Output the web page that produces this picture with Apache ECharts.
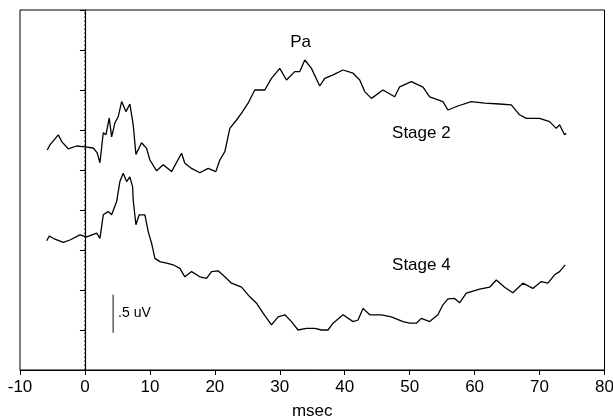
<!DOCTYPE html>
<html><head><meta charset="utf-8">
<script src="https://cdn.jsdelivr.net/npm/echarts@6/dist/echarts.min.js"></script>
<style>html,body{margin:0;padding:0;background:#fff}#c{width:613px;height:419px}</style>
</head><body><div id="c"></div>
<script>
var xTicks = [-10, 0, 10, 20, 30, 40, 50, 60, 70, 80];
var stage2 = [
[-5.80,5.50],[-5.38,5.63],[-4.11,5.88],[-3.58,5.71],[-2.57,5.53],[-1.28,5.60],[0,5.58],[1.28,5.55],[1.89,5.43],[2.31,5.18],
[2.82,5.93],[3.23,5.88],[3.74,6.30],[4.11,5.83],[4.62,6.18],[5.12,6.33],[5.65,6.71],[6.31,6.46],[6.92,6.65],[7.43,6.13],
[7.85,5.39],[8.72,5.68],[9.49,5.54],[10.0,5.25],[11.03,4.98],[12.05,5.13],[13.34,4.96],[14.88,5.42],[15.38,5.17],[16.42,5.04],
[17.69,4.93],[18.97,5.04],[20.15,4.96],[20.77,5.25],[21.54,5.46],[22.31,6.04],[23.34,6.25],[24.11,6.42],[25.12,6.67],[26.15,7.00],
[27.69,7.00],[28.72,7.29],[30.0,7.54],[31.03,7.25],[32.31,7.46],[33.08,7.46],[33.85,7.75],[34.88,7.54],[36.15,7.10],[36.92,7.29],
[38.2,7.38],[39.74,7.50],[41.28,7.42],[42.31,7.25],[43.08,6.96],[44.11,6.79],[45.89,7.00],[47.69,6.83],[48.46,7.08],[50.26,7.21],
[52.05,7.07],[53.08,6.83],[55.12,6.71],[55.89,6.50],[57.43,6.60],[59.49,6.71],[61.54,6.67],[63.85,6.65],[65.65,6.63],[66.92,6.38],
[67.95,6.29],[70.0,6.29],[71.54,6.21],[72.57,6.04],[73.08,6.13],[73.85,5.88],[74.1,5.92]
];
var stage4 = [
[-5.89,3.23],[-5.49,3.35],[-4.62,3.27],[-3.34,3.19],[-2.31,3.25],[-0.77,3.38],[0.26,3.33],[1.8,3.42],[2.31,3.29],[2.82,3.88],
[3.58,3.96],[4.11,3.88],[4.88,4.21],[5.38,4.71],[5.89,4.92],[6.42,4.71],[6.92,4.83],[7.34,4.58],[7.43,4.25],[7.85,3.63],
[8.35,3.88],[9.23,3.88],[9.74,3.46],[10.26,3.17],[10.77,2.79],[11.54,2.71],[12.57,2.67],[13.58,2.63],[14.62,2.54],[15.38,2.33],
[16.42,2.46],[17.69,2.33],[18.72,2.29],[19.49,2.46],[20.51,2.48],[21.54,2.33],[22.57,2.17],[24.11,2.07],[25.38,1.83],[26.42,1.67],
[27.43,1.42],[28.72,1.13],[29.74,1.33],[30.77,1.38],[31.8,1.21],[32.82,1.0],[34.1,1.04],[35.38,1.04],[36.42,1.0],[37.43,1.0],
[38.2,1.17],[39.74,1.38],[41.28,1.21],[42.05,1.25],[42.82,1.54],[43.85,1.38],[45.65,1.38],[47.18,1.33],[48.97,1.21],[50.0,1.17],
[51.03,1.17],[51.8,1.29],[53.08,1.21],[54.35,1.38],[55.12,1.63],[55.89,1.78],[56.92,1.79],[57.69,1.68],[58.72,1.92],[59.49,1.96],
[60.77,2.02],[62.31,2.07],[63.34,2.25],[64.62,2.07],[65.89,1.93],[67.43,2.17],[68.97,2.04],[70.26,2.21],[71.28,2.17],[72.31,2.38],
[73.08,2.46],[73.95,2.63]
];
var zeroLine = [[0,0],[0,9]];
var scaleBar = [[4.34,0.93],[4.34,1.88]];
var labels = [
  {name:'Pa', coord:[33.2,8.18]},
  {name:'Stage 2', coord:[51.8,5.92]},
  {name:'Stage 4', coord:[51.8,2.61]}
];
var scaleLabel = {name:'.5 uV', coord:[5.1,1.42]};

var chart = echarts.init(document.getElementById('c'));
var font = 'Liberation Sans, Arial, sans-serif';
chart.setOption({
  animation:false,
  grid:{left:20, right:8.5, top:10, bottom:49, containLabel:false, outerBoundsMode:'none',
    show:true, borderColor:'#000', borderWidth:1, backgroundColor:'transparent'},
  xAxis:{type:'value', min:-10, max:80, interval:10, name:'msec', nameLocation:'middle', nameGap:33,
    nameTextStyle:{color:'#000', fontSize:17, fontFamily:font},
    axisLine:{lineStyle:{color:'#000', width:1.2}}, axisTick:{length:5, lineStyle:{color:'#000'}},
    axisLabel:{color:'#000', fontSize:17, fontFamily:font, margin:9, formatter:function(v){return xTicks.indexOf(v)>=0?String(v):'';}},
    splitLine:{show:false}},
  yAxis:{type:'value', min:0, max:9, interval:1,
    axisLine:{show:true, lineStyle:{color:'#000', width:1.2}}, axisTick:{show:true, length:5, lineStyle:{color:'#000'}},
    axisLabel:{show:false}, splitLine:{show:false}},
  series:[
    {type:'line', data:zeroLine, symbol:'none', silent:true, z:1,
      lineStyle:{color:'#000', width:1, type:[1.5,2.5]}},
    {type:'line', data:stage2, symbol:'none', lineStyle:{color:'#000', width:1.3},
      markPoint:{symbol:'circle', symbolSize:0,
        label:{show:true, color:'#000', fontSize:17, fontFamily:font, formatter:'{b}', position:'inside'},
        data:labels.map(function(l){return {name:l.name, coord:l.coord};})}
    },
    {type:'line', data:stage4, symbol:'none', lineStyle:{color:'#000', width:1.3}},
    {type:'line', data:scaleBar, symbol:'none', lineStyle:{color:'#333', width:1.2},
      markPoint:{symbol:'circle', symbolSize:0,
        label:{show:true, color:'#000', fontSize:14, fontFamily:font, formatter:'{b}', position:'right', distance:0},
        data:[{name:scaleLabel.name, coord:scaleLabel.coord}]}
    }
  ]
});
</script></body></html>
